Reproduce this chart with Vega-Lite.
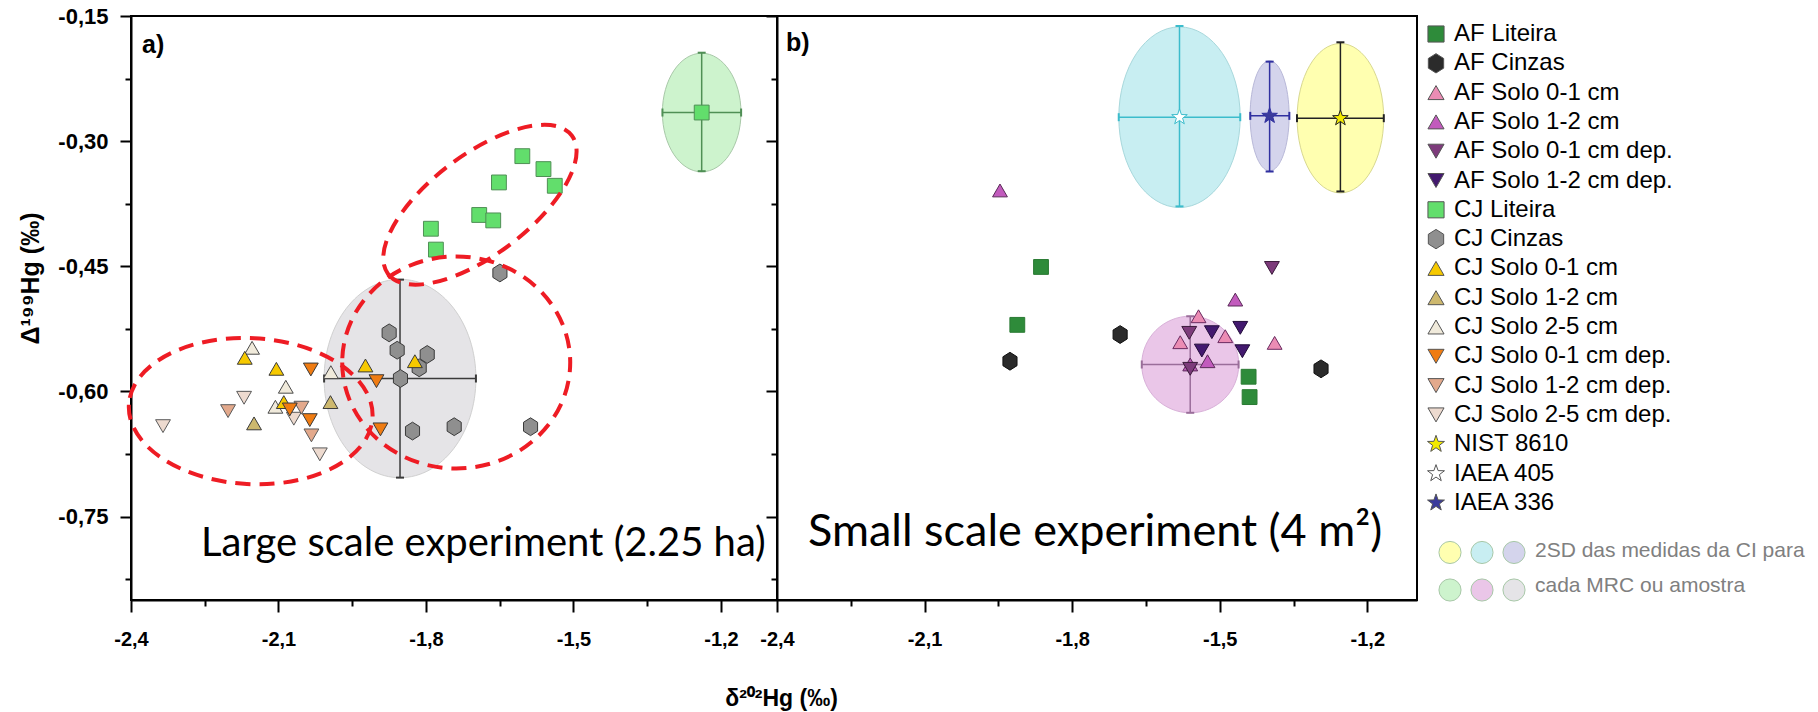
{
  "$schema": "https://vega.github.io/schema/vega-lite/v6.json",
  "background": "white",
  "padding": {"left": 17, "top": 4, "right": 4, "bottom": 2},
  "bounds": "flush",
  "spacing": 0,
  "config": {
    "view": {"stroke": "#000000", "strokeWidth": 2},
    "point": {"opacity": 1},
    "axis": {"domainColor": "#000000", "domainWidth": 2, "tickColor": "#000000", "tickWidth": 2, "labelColor": "#000000", "titleColor": "#000000", "grid": false, "labelFlush": false, "labelOverlap": false, "labelBound": false},
    "legend": {"labelFont": "Liberation Sans", "labelColor": "#000000", "labelLimit": 0, "titleLimit": 0}
  },
  "datasets": {
    "pts": [
      {"p": "a", "serie": "CJ Liteira", "x": -1.604, "y": -0.318},
      {"p": "a", "serie": "CJ Liteira", "x": -1.561, "y": -0.3335},
      {"p": "a", "serie": "CJ Liteira", "x": -1.538, "y": -0.3535},
      {"p": "a", "serie": "CJ Liteira", "x": -1.6516, "y": -0.3495},
      {"p": "a", "serie": "CJ Liteira", "x": -1.6917, "y": -0.3885},
      {"p": "a", "serie": "CJ Liteira", "x": -1.6632, "y": -0.395},
      {"p": "a", "serie": "CJ Liteira", "x": -1.79, "y": -0.405},
      {"p": "a", "serie": "CJ Liteira", "x": -1.7798, "y": -0.43},
      {"p": "a", "serie": "CJ Liteira", "x": -1.2392, "y": -0.2657},
      {"p": "a", "serie": "CJ Cinzas", "x": -1.6496, "y": -0.458},
      {"p": "a", "serie": "CJ Cinzas", "x": -1.8749, "y": -0.5298},
      {"p": "a", "serie": "CJ Cinzas", "x": -1.8586, "y": -0.5506},
      {"p": "a", "serie": "CJ Cinzas", "x": -1.7975, "y": -0.5557},
      {"p": "a", "serie": "CJ Cinzas", "x": -1.8138, "y": -0.5717},
      {"p": "a", "serie": "CJ Cinzas", "x": -1.8519, "y": -0.5845},
      {"p": "a", "serie": "CJ Cinzas", "x": -1.8274, "y": -0.6475},
      {"p": "a", "serie": "CJ Cinzas", "x": -1.7426, "y": -0.6423},
      {"p": "a", "serie": "CJ Cinzas", "x": -1.5873, "y": -0.6423},
      {"p": "a", "serie": "CJ Solo 2-5 cm dep.", "x": -2.3349, "y": -0.6416},
      {"p": "a", "serie": "CJ Solo 2-5 cm dep.", "x": -2.17, "y": -0.6076},
      {"p": "a", "serie": "CJ Solo 2-5 cm dep.", "x": -2.0159, "y": -0.6754},
      {"p": "a", "serie": "CJ Solo 2-5 cm dep.", "x": -2.0688, "y": -0.6327},
      {"p": "a", "serie": "CJ Solo 1-2 cm dep.", "x": -2.2026, "y": -0.6236},
      {"p": "a", "serie": "CJ Solo 1-2 cm dep.", "x": -2.0533, "y": -0.6195},
      {"p": "a", "serie": "CJ Solo 1-2 cm dep.", "x": -2.033, "y": -0.6527},
      {"p": "a", "serie": "CJ Solo 2-5 cm", "x": -2.1537, "y": -0.5477},
      {"p": "a", "serie": "CJ Solo 2-5 cm", "x": -2.0851, "y": -0.5944},
      {"p": "a", "serie": "CJ Solo 2-5 cm", "x": -2.1063, "y": -0.6184},
      {"p": "a", "serie": "CJ Solo 2-5 cm", "x": -1.9935, "y": -0.5769},
      {"p": "a", "serie": "CJ Solo 1-2 cm", "x": -2.1497, "y": -0.6383},
      {"p": "a", "serie": "CJ Solo 1-2 cm", "x": -1.9943, "y": -0.6128},
      {"p": "a", "serie": "CJ Solo 0-1 cm", "x": -2.1686, "y": -0.5597},
      {"p": "a", "serie": "CJ Solo 0-1 cm", "x": -2.1043, "y": -0.5729},
      {"p": "a", "serie": "CJ Solo 0-1 cm", "x": -2.0892, "y": -0.6128},
      {"p": "a", "serie": "CJ Solo 0-1 cm", "x": -1.9231, "y": -0.5689},
      {"p": "a", "serie": "CJ Solo 0-1 cm", "x": -1.8226, "y": -0.5638},
      {"p": "a", "serie": "CJ Solo 0-1 cm dep.", "x": -2.0342, "y": -0.5737},
      {"p": "a", "serie": "CJ Solo 0-1 cm dep.", "x": -2.077, "y": -0.6216},
      {"p": "a", "serie": "CJ Solo 0-1 cm dep.", "x": -2.0363, "y": -0.6344},
      {"p": "a", "serie": "CJ Solo 0-1 cm dep.", "x": -1.9007, "y": -0.5877},
      {"p": "a", "serie": "CJ Solo 0-1 cm dep.", "x": -1.8926, "y": -0.6455},
      {"p": "b", "serie": "AF Liteira", "x": -1.8633, "y": -0.4508},
      {"p": "b", "serie": "AF Liteira", "x": -1.9115, "y": -0.5202},
      {"p": "b", "serie": "AF Liteira", "x": -1.4413, "y": -0.5824},
      {"p": "b", "serie": "AF Liteira", "x": -1.4393, "y": -0.6068},
      {"p": "b", "serie": "AF Cinzas", "x": -1.7025, "y": -0.5318},
      {"p": "b", "serie": "AF Cinzas", "x": -1.9264, "y": -0.5638},
      {"p": "b", "serie": "AF Cinzas", "x": -1.2941, "y": -0.5729},
      {"p": "b", "serie": "AF Solo 0-1 cm", "x": -1.5431, "y": -0.5099},
      {"p": "b", "serie": "AF Solo 0-1 cm", "x": -1.5803, "y": -0.541},
      {"p": "b", "serie": "AF Solo 0-1 cm", "x": -1.4888, "y": -0.5338},
      {"p": "b", "serie": "AF Solo 0-1 cm", "x": -1.3884, "y": -0.5418},
      {"p": "b", "serie": "AF Solo 1-2 cm", "x": -1.9467, "y": -0.3591},
      {"p": "b", "serie": "AF Solo 1-2 cm", "x": -1.4684, "y": -0.4899},
      {"p": "b", "serie": "AF Solo 1-2 cm", "x": -1.5248, "y": -0.5638},
      {"p": "b", "serie": "AF Solo 1-2 cm", "x": -1.56, "y": -0.5677},
      {"p": "b", "serie": "AF Solo 0-1 cm dep.", "x": -1.3939, "y": -0.452},
      {"p": "b", "serie": "AF Solo 0-1 cm dep.", "x": -1.562, "y": -0.5298},
      {"p": "b", "serie": "AF Solo 0-1 cm dep.", "x": -1.56, "y": -0.5729},
      {"p": "b", "serie": "AF Solo 1-2 cm dep.", "x": -1.516, "y": -0.529},
      {"p": "b", "serie": "AF Solo 1-2 cm dep.", "x": -1.4582, "y": -0.5238},
      {"p": "b", "serie": "AF Solo 1-2 cm dep.", "x": -1.5364, "y": -0.551},
      {"p": "b", "serie": "AF Solo 1-2 cm dep.", "x": -1.454, "y": -0.5518},
      {"p": "b", "serie": "IAEA 405", "x": -1.5818, "y": -0.2713},
      {"p": "b", "serie": "IAEA 336", "x": -1.3986, "y": -0.2697},
      {"p": "b", "serie": "NIST 8610", "x": -1.2547, "y": -0.2725}
    ],
    "sd": [
      {"p": "a", "grupo": "CJ Liteira", "x": -1.2392, "y": -0.2657, "xlo": -1.319, "xhi": -1.159, "ylo": -0.336, "yhi": -0.194},
      {"p": "a", "grupo": "CJ Cinzas", "x": -1.8528, "y": -0.5845, "xlo": -2.0072, "xhi": -1.6984, "ylo": -0.7033, "yhi": -0.466},
      {"p": "b", "grupo": "IAEA 405", "x": -1.5818, "y": -0.2713, "xlo": -1.7053, "xhi": -1.4583, "ylo": -0.3782, "yhi": -0.162},
      {"p": "b", "grupo": "IAEA 336", "x": -1.3986, "y": -0.2697, "xlo": -1.4379, "xhi": -1.3585, "ylo": -0.3364, "yhi": -0.2047},
      {"p": "b", "grupo": "NIST 8610", "x": -1.2547, "y": -0.2725, "xlo": -1.343, "xhi": -1.1665, "ylo": -0.3603, "yhi": -0.1815},
      {"p": "b", "grupo": "AF Solo", "x": -1.56, "y": -0.5677, "xlo": -1.6585, "xhi": -1.4617, "ylo": -0.6256, "yhi": -0.5099}
    ],
    "grp": [
      {"id": "r1", "x": -1.6903, "y": -0.3762},
      {"id": "r2", "x": -2.1565, "y": -0.6236},
      {"id": "r3", "x": -1.7385, "y": -0.5653}
    ],
    "lbl": [
      {"p": "a", "k": "tag", "t": "a)", "x": -2.3776, "y": -0.1847},
      {"p": "a", "k": "exp", "t": "Large scale experiment (2.25 ha)", "x": -2.2575, "y": -0.7975},
      {"p": "b", "k": "tag", "t": "b)", "x": -2.3817, "y": -0.1829},
      {"p": "b", "k": "exp", "t": "Small scale experiment (4 m²)", "x": -2.3369, "y": -0.7852}
    ]
  },
  "hconcat": [
    {
      "width": 646,
      "height": 584,
      "layer": [
        {
          "data": {"name": "sd"},
          "transform": [{"filter": "datum.grupo == 'CJ Liteira'"}],
          "mark": {"type": "point", "shape": "M-39.3,0A39.3,59.3,0,1,0,39.3,0A39.3,59.3,0,1,0,-39.3,0Z", "size": 4, "filled": true, "stroke": "#a8c8a8", "strokeWidth": 1, "opacity": 1},
          "encoding": {
            "x": {"field": "x", "type": "quantitative", "scale": {"domain": [-2.4, -1.086], "nice": false, "zero": false},
              "axis": {"values": [-2.4, -2.25, -2.1, -1.95, -1.8, -1.65, -1.5, -1.35, -1.2],
                "labelExpr": "(abs((datum.value*10) % 3) < 0.05 || abs((datum.value*10) % 3) > 2.95) ? replace(replace(format(datum.value, '.1f'), '.', ','), '−', '-') : ''",
                "tickSize": {"condition": {"test": "abs((datum.value*10) % 3) < 0.05 || abs((datum.value*10) % 3) > 2.95", "value": 12}, "value": 6},
                "labelFont": "Liberation Sans", "labelFontSize": 20, "labelFontWeight": "bold", "labelPadding": 17,
                "title": "δ²⁰²Hg (‰)", "titleFont": "Liberation Sans", "titleFontSize": 23, "titleFontWeight": "bold",
                "titleX": 650, "titleY": 98, "titleBaseline": "middle", "titleAlign": "center"}},
            "y": {"field": "y", "type": "quantitative", "scale": {"domain": [-0.85, -0.15], "nice": false, "zero": false},
              "axis": {"values": [-0.825, -0.75, -0.675, -0.6, -0.525, -0.45, -0.375, -0.3, -0.225, -0.15],
                "labelExpr": "(abs((datum.value*100) % 15) < 0.5 || abs((datum.value*100) % 15) > 14.5) ? replace(replace(format(datum.value, '.2f'), '.', ','), '−', '-') : ''",
                "tickSize": {"condition": {"test": "abs((datum.value*100) % 15) < 0.5 || abs((datum.value*100) % 15) > 14.5", "value": 11}, "value": 6},
                "labelFont": "Liberation Sans", "labelFontSize": 22, "labelFontWeight": "bold", "labelPadding": 12,
                "title": "Δ¹⁹⁹Hg (‰)", "titleFont": "Liberation Sans", "titleFontSize": 25, "titleFontWeight": "bold",
                "titleX": -101, "titleY": 262, "titleAngle": 270, "titleBaseline": "middle", "titleAlign": "center"}},
            "fill": {"field": "grupo", "type": "nominal",
              "scale": {"domain": ["NIST 8610", "CJ Liteira", "IAEA 405", "AF Solo", "IAEA 336", "CJ Cinzas"], "range": ["#ffffb0", "#cdf3cd", "#c8eef2", "#eac6e8", "#d4d4ec", "#e5e4e7"]}}
          }
        },
        {
          "data": {"name": "sd"},
          "transform": [{"filter": "datum.grupo == 'CJ Cinzas'"}],
          "mark": {"type": "point", "shape": "M-75.9,0A75.9,99.2,0,1,0,75.9,0A75.9,99.2,0,1,0,-75.9,0Z", "size": 4, "filled": true, "stroke": "#d0d0d0", "strokeWidth": 1, "opacity": 1},
          "encoding": {
            "x": {"field": "x", "type": "quantitative"},
            "y": {"field": "y", "type": "quantitative"},
            "fill": {"field": "grupo", "type": "nominal"}
          }
        },
        {
          "data": {"name": "sd"},
          "transform": [{"filter": "datum.p == 'a'"}],
          "mark": {"type": "rule", "strokeWidth": 1.5},
          "encoding": {
            "x": {"field": "xlo", "type": "quantitative"},
            "x2": {"field": "xhi"},
            "y": {"field": "y", "type": "quantitative"},
            "stroke": {"field": "grupo", "type": "nominal", "legend": null}
          }
        },
        {
          "data": {"name": "sd"},
          "transform": [{"filter": "datum.p == 'a'"}],
          "mark": {"type": "rule", "strokeWidth": 1.5},
          "encoding": {
            "x": {"field": "x", "type": "quantitative"},
            "y": {"field": "ylo", "type": "quantitative"},
            "y2": {"field": "yhi"},
            "stroke": {"field": "grupo", "type": "nominal", "legend": null}
          }
        },
        {
          "data": {"name": "sd"},
          "transform": [{"filter": "datum.p == 'a'"}, {"fold": ["xlo", "xhi"], "as": ["k", "v"]}],
          "mark": {"type": "point", "shape": "M0,-4L0,4", "size": 4, "filled": false, "strokeWidth": 2, "opacity": 1},
          "encoding": {
            "x": {"field": "v", "type": "quantitative"},
            "y": {"field": "y", "type": "quantitative"},
            "stroke": {"field": "grupo", "type": "nominal", "legend": null}
          }
        },
        {
          "data": {"name": "sd"},
          "transform": [{"filter": "datum.p == 'a'"}, {"fold": ["ylo", "yhi"], "as": ["k", "v"]}],
          "mark": {"type": "point", "shape": "M-4,0L4,0", "size": 4, "filled": false, "strokeWidth": 2, "opacity": 1},
          "encoding": {
            "x": {"field": "x", "type": "quantitative"},
            "y": {"field": "v", "type": "quantitative"},
            "stroke": {"field": "grupo", "type": "nominal", "legend": null}
          }
        },
        {
          "data": {"name": "pts"},
          "transform": [{"filter": "datum.p == 'a'"}],
          "mark": {"type": "point", "filled": true, "size": 220, "strokeWidth": 1, "opacity": 1},
          "encoding": {
            "x": {"field": "x", "type": "quantitative"},
            "y": {"field": "y", "type": "quantitative"},
            "color": {"field": "serie", "type": "nominal",
              "scale": {"domain": ["AF Liteira", "AF Cinzas", "AF Solo 0-1 cm", "AF Solo 1-2 cm", "AF Solo 0-1 cm dep.", "AF Solo 1-2 cm dep.", "CJ Liteira", "CJ Cinzas", "CJ Solo 0-1 cm", "CJ Solo 1-2 cm", "CJ Solo 2-5 cm", "CJ Solo 0-1 cm dep.", "CJ Solo 1-2 cm dep.", "CJ Solo 2-5 cm dep.", "NIST 8610", "IAEA 405", "IAEA 336"],
                "range": ["#2e8b3a", "#2b2b2b", "#eb8cb4", "#c25bbd", "#7d3b7b", "#43196f", "#62de6c", "#8f8f8f", "#f6c900", "#cdb86e", "#f0eadb", "#f07c12", "#e3a98c", "#eddacf", "#f2ea00", "#ffffff", "#3b3b9c"]},
              "legend": {"title": null, "symbolSize": 260, "labelFontSize": 24, "rowPadding": 5.3, "labelOffset": 6, "offset": 0, "padding": 6, "symbolStrokeWidth": 1, "symbolStrokeColor": "#555555",
                "encode": {"symbols": {"update": {"stroke": [{"test": "datum.value == 'IAEA 405'", "value": "#3cbccc"}, {"value": "#555555"}]}}}}},
            "shape": {"field": "serie", "type": "nominal",
              "scale": {"domain": ["AF Liteira", "AF Cinzas", "AF Solo 0-1 cm", "AF Solo 1-2 cm", "AF Solo 0-1 cm dep.", "AF Solo 1-2 cm dep.", "CJ Liteira", "CJ Cinzas", "CJ Solo 0-1 cm", "CJ Solo 1-2 cm", "CJ Solo 2-5 cm", "CJ Solo 0-1 cm dep.", "CJ Solo 1-2 cm dep.", "CJ Solo 2-5 cm dep.", "NIST 8610", "IAEA 405", "IAEA 336"],
                "range": ["square", "M0,-1.2L0.95,-0.6L0.95,0.6L0,1.2L-0.95,0.6L-0.95,-0.6Z", "triangle-up", "triangle-up", "triangle-down", "triangle-down", "square", "M0,-1.2L0.95,-0.6L0.95,0.6L0,1.2L-0.95,0.6L-0.95,-0.6Z", "triangle-up", "triangle-up", "triangle-up", "triangle-down", "triangle-down", "triangle-down", "M0,-1.1L0.26,-0.36L1.05,-0.34L0.42,0.14L0.65,0.89L0,0.44L-0.65,0.89L-0.42,0.14L-1.05,-0.34L-0.26,-0.36Z", "M0,-1.1L0.26,-0.36L1.05,-0.34L0.42,0.14L0.65,0.89L0,0.44L-0.65,0.89L-0.42,0.14L-1.05,-0.34L-0.26,-0.36Z", "M0,-1.1L0.26,-0.36L1.05,-0.34L0.42,0.14L0.65,0.89L0,0.44L-0.65,0.89L-0.42,0.14L-1.05,-0.34L-0.26,-0.36Z"]},
              "legend": {"title": null}},
            "stroke": {"field": "serie", "type": "nominal",
              "scale": {"domain": ["AF Liteira", "AF Cinzas", "AF Solo 0-1 cm", "AF Solo 1-2 cm", "AF Solo 0-1 cm dep.", "AF Solo 1-2 cm dep.", "CJ Liteira", "CJ Cinzas", "CJ Solo 0-1 cm", "CJ Solo 1-2 cm", "CJ Solo 2-5 cm", "CJ Solo 0-1 cm dep.", "CJ Solo 1-2 cm dep.", "CJ Solo 2-5 cm dep.", "NIST 8610", "IAEA 405", "IAEA 336", "AF Solo"],
                "range": ["#2a7a33", "#111111", "#6a2a60", "#5a2a58", "#3a1a3a", "#220c3a", "#4f8f55", "#3a3a3a", "#3a3a3a", "#3a3a3a", "#4a4a4a", "#3a3a3a", "#5a5a5a", "#5a5a5a", "#222222", "#3cbccc", "#3030a0", "#9a6e9a"]},
              "legend": {"title": null}}
          }
        },
        {
          "data": {"name": "grp"},
          "transform": [{"filter": "datum.id == 'r1'"}],
          "mark": {"type": "point", "shape": "M-115,0A115,50,0,1,0,115,0A115,50,0,1,0,-115,0Z", "size": 4, "filled": false, "color": "#ee1c24", "strokeWidth": 4, "strokeDash": [15, 9], "angle": 323, "opacity": 1},
          "encoding": {"x": {"field": "x", "type": "quantitative"}, "y": {"field": "y", "type": "quantitative"}}
        },
        {
          "data": {"name": "grp"},
          "transform": [{"filter": "datum.id == 'r2'"}],
          "mark": {"type": "point", "shape": "M-122,0A122,73,0,1,0,122,0A122,73,0,1,0,-122,0Z", "size": 4, "filled": false, "color": "#ee1c24", "strokeWidth": 4, "strokeDash": [15, 9], "angle": 3, "opacity": 1},
          "encoding": {"x": {"field": "x", "type": "quantitative"}, "y": {"field": "y", "type": "quantitative"}}
        },
        {
          "data": {"name": "grp"},
          "transform": [{"filter": "datum.id == 'r3'"}],
          "mark": {"type": "point", "shape": "M-114,0A114,106,0,1,0,114,0A114,106,0,1,0,-114,0Z", "size": 4, "filled": false, "color": "#ee1c24", "strokeWidth": 4, "strokeDash": [15, 9], "opacity": 1},
          "encoding": {"x": {"field": "x", "type": "quantitative"}, "y": {"field": "y", "type": "quantitative"}}
        },
        {
          "data": {"name": "lbl"},
          "transform": [{"filter": "datum.p == 'a' && datum.k == 'tag'"}],
          "mark": {"type": "text", "align": "left", "baseline": "middle", "font": "Liberation Sans", "fontWeight": "bold", "fontSize": 25, "color": "#000000"},
          "encoding": {"x": {"field": "x", "type": "quantitative"}, "y": {"field": "y", "type": "quantitative"}, "text": {"field": "t"}}
        },
        {
          "data": {"name": "lbl"},
          "transform": [{"filter": "datum.p == 'a' && datum.k == 'exp'"}],
          "mark": {"type": "text", "align": "left", "baseline": "alphabetic", "font": "Lato", "fontSize": 40, "color": "#000000"},
          "encoding": {"x": {"field": "x", "type": "quantitative"}, "y": {"field": "y", "type": "quantitative"}, "text": {"field": "t"}}
        }
      ]
    },
    {
      "width": 640,
      "height": 584,
      "layer": [
        {
          "data": {"name": "sd"},
          "transform": [{"filter": "datum.grupo == 'IAEA 405'"}],
          "mark": {"type": "point", "shape": "M-60.7,0A60.7,90.3,0,1,0,60.7,0A60.7,90.3,0,1,0,-60.7,0Z", "size": 4, "filled": true, "stroke": "#a8d8dc", "strokeWidth": 1, "opacity": 1},
          "encoding": {
            "x": {"field": "x", "type": "quantitative", "scale": {"domain": [-2.4, -1.099], "nice": false, "zero": false},
              "axis": {"values": [-2.4, -2.25, -2.1, -1.95, -1.8, -1.65, -1.5, -1.35, -1.2],
                "labelExpr": "(abs((datum.value*10) % 3) < 0.05 || abs((datum.value*10) % 3) > 2.95) ? replace(replace(format(datum.value, '.1f'), '.', ','), '−', '-') : ''",
                "tickSize": {"condition": {"test": "abs((datum.value*10) % 3) < 0.05 || abs((datum.value*10) % 3) > 2.95", "value": 12}, "value": 6},
                "labelFont": "Liberation Sans", "labelFontSize": 20, "labelFontWeight": "bold", "labelPadding": 17, "title": null}},
            "y": {"field": "y", "type": "quantitative", "scale": {"domain": [-0.85, -0.15], "nice": false, "zero": false},
              "axis": {"values": [-0.825, -0.75, -0.675, -0.6, -0.525, -0.45, -0.375, -0.3, -0.225, -0.15], "labels": false,
                "tickSize": {"condition": {"test": "abs((datum.value*100) % 15) < 0.5 || abs((datum.value*100) % 15) > 14.5", "value": 11}, "value": 6},
                "title": null}},
            "fill": {"field": "grupo", "type": "nominal",
              "legend": {"orient": "none", "legendX": 1307, "legendY": 524, "title": ["2SD das medidas da CI para", "cada MRC ou amostra"], "titleOrient": "right", "columns": 3, "symbolType": "circle", "symbolSize": 490, "symbolStrokeColor": "#d8d8d8", "symbolStrokeWidth": 1, "labelExpr": "''", "labelOffset": 0, "labelFontSize": 1, "columnPadding": 4, "rowPadding": 10, "titleFont": "Liberation Sans", "titleFontSize": 21, "titleFontWeight": "normal", "titleColor": "#808080", "titleLineHeight": 35, "titlePadding": 8, "titleBaseline": "top", "titleAnchor": "start", "padding": 0}}
          }
        },
        {
          "data": {"name": "sd"},
          "transform": [{"filter": "datum.grupo == 'IAEA 336'"}],
          "mark": {"type": "point", "shape": "M-19.5,0A19.5,55,0,1,0,19.5,0A19.5,55,0,1,0,-19.5,0Z", "size": 4, "filled": true, "stroke": "#b8b8d8", "strokeWidth": 1, "opacity": 1},
          "encoding": {"x": {"field": "x", "type": "quantitative"}, "y": {"field": "y", "type": "quantitative"}, "fill": {"field": "grupo", "type": "nominal"}}
        },
        {
          "data": {"name": "sd"},
          "transform": [{"filter": "datum.grupo == 'NIST 8610'"}],
          "mark": {"type": "point", "shape": "M-43.3,0A43.3,74.7,0,1,0,43.3,0A43.3,74.7,0,1,0,-43.3,0Z", "size": 4, "filled": true, "stroke": "#d8d890", "strokeWidth": 1, "opacity": 1},
          "encoding": {"x": {"field": "x", "type": "quantitative"}, "y": {"field": "y", "type": "quantitative"}, "fill": {"field": "grupo", "type": "nominal"}}
        },
        {
          "data": {"name": "sd"},
          "transform": [{"filter": "datum.grupo == 'AF Solo'"}],
          "mark": {"type": "point", "shape": "M-48.5,0A48.5,48.3,0,1,0,48.5,0A48.5,48.3,0,1,0,-48.5,0Z", "size": 4, "filled": true, "stroke": "#d8b0d8", "strokeWidth": 1, "opacity": 1},
          "encoding": {"x": {"field": "x", "type": "quantitative"}, "y": {"field": "y", "type": "quantitative"}, "fill": {"field": "grupo", "type": "nominal"}}
        },
        {
          "data": {"name": "sd"},
          "transform": [{"filter": "datum.p == 'b'"}],
          "mark": {"type": "rule", "strokeWidth": 1.5},
          "encoding": {
            "x": {"field": "xlo", "type": "quantitative"},
            "x2": {"field": "xhi"},
            "y": {"field": "y", "type": "quantitative"},
            "stroke": {"field": "grupo", "type": "nominal", "legend": null}
          }
        },
        {
          "data": {"name": "sd"},
          "transform": [{"filter": "datum.p == 'b'"}],
          "mark": {"type": "rule", "strokeWidth": 1.5},
          "encoding": {
            "x": {"field": "x", "type": "quantitative"},
            "y": {"field": "ylo", "type": "quantitative"},
            "y2": {"field": "yhi"},
            "stroke": {"field": "grupo", "type": "nominal", "legend": null}
          }
        },
        {
          "data": {"name": "sd"},
          "transform": [{"filter": "datum.p == 'b'"}, {"fold": ["xlo", "xhi"], "as": ["k", "v"]}],
          "mark": {"type": "point", "shape": "M0,-4L0,4", "size": 4, "filled": false, "strokeWidth": 2, "opacity": 1},
          "encoding": {
            "x": {"field": "v", "type": "quantitative"},
            "y": {"field": "y", "type": "quantitative"},
            "stroke": {"field": "grupo", "type": "nominal", "legend": null}
          }
        },
        {
          "data": {"name": "sd"},
          "transform": [{"filter": "datum.p == 'b'"}, {"fold": ["ylo", "yhi"], "as": ["k", "v"]}],
          "mark": {"type": "point", "shape": "M-4,0L4,0", "size": 4, "filled": false, "strokeWidth": 2, "opacity": 1},
          "encoding": {
            "x": {"field": "x", "type": "quantitative"},
            "y": {"field": "v", "type": "quantitative"},
            "stroke": {"field": "grupo", "type": "nominal", "legend": null}
          }
        },
        {
          "data": {"name": "pts"},
          "transform": [{"filter": "datum.p == 'b'"}],
          "mark": {"type": "point", "filled": true, "size": 220, "strokeWidth": 1, "opacity": 1},
          "encoding": {
            "x": {"field": "x", "type": "quantitative"},
            "y": {"field": "y", "type": "quantitative"},
            "color": {"field": "serie", "type": "nominal"},
            "shape": {"field": "serie", "type": "nominal"},
            "stroke": {"field": "serie", "type": "nominal"}
          }
        },
        {
          "data": {"name": "lbl"},
          "transform": [{"filter": "datum.p == 'b' && datum.k == 'tag'"}],
          "mark": {"type": "text", "align": "left", "baseline": "middle", "font": "Liberation Sans", "fontWeight": "bold", "fontSize": 25, "color": "#000000"},
          "encoding": {"x": {"field": "x", "type": "quantitative"}, "y": {"field": "y", "type": "quantitative"}, "text": {"field": "t"}}
        },
        {
          "data": {"name": "lbl"},
          "transform": [{"filter": "datum.p == 'b' && datum.k == 'exp'"}],
          "mark": {"type": "text", "align": "left", "baseline": "alphabetic", "font": "Lato", "fontSize": 45, "color": "#000000"},
          "encoding": {"x": {"field": "x", "type": "quantitative"}, "y": {"field": "y", "type": "quantitative"}, "text": {"field": "t"}}
        }
      ]
    }
  ]
}
